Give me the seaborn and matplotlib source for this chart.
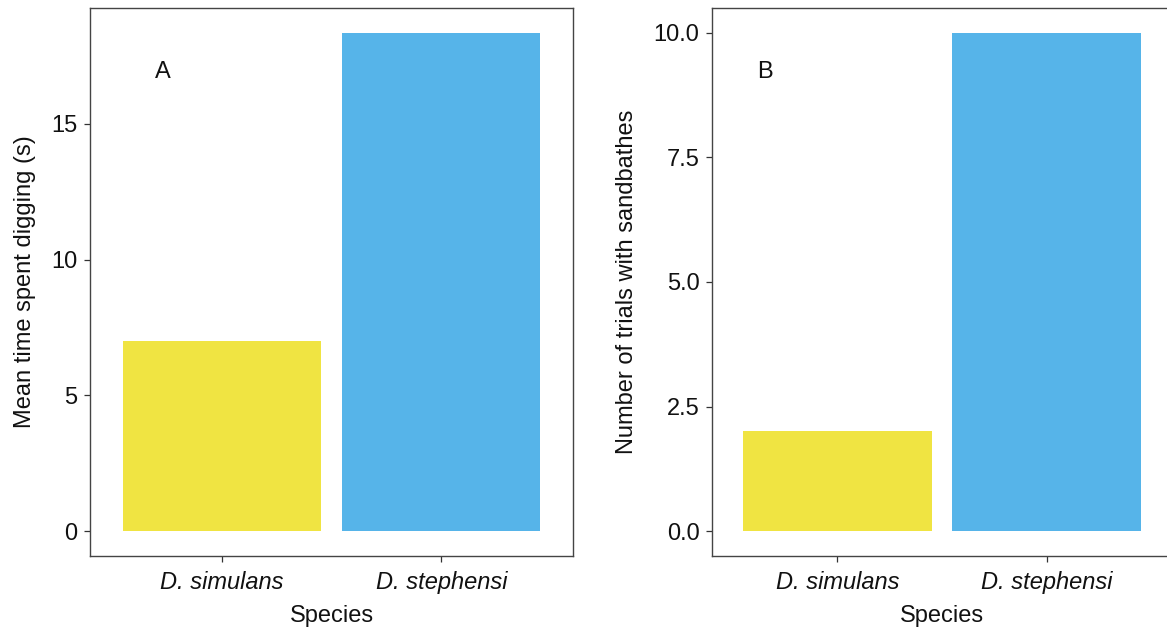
import matplotlib
matplotlib.use("Agg")
import matplotlib.pyplot as plt
import seaborn as sns
import pandas as pd

species = ["D. simulans", "D. stephensi"]
dig_time = [7.0, 18.35]
sandbath_trials = [2, 10]
colors = ["#F0E442", "#56B4E9"]
yticks_a = [0, 5, 10, 15]
yticks_b = [0.0, 2.5, 5.0, 7.5, 10.0]

sns.set_style("white")
plt.rcParams["font.family"] = ["Liberation Sans", "DejaVu Sans"]

FS = 17

fig = plt.figure(figsize=(11.67, 6.33), dpi=100)
ax1 = fig.add_axes([90/1167, 77/633, 483/1167, 548/633])
ax2 = fig.add_axes([712/1167, 77/633, 460/1167, 548/633])

df_a = pd.DataFrame({"Species": species, "val": dig_time})
df_b = pd.DataFrame({"Species": species, "val": sandbath_trials})

def style(ax, df, ylabel, yticks, ticklabels, ymax, letter, lx):
    sns.barplot(data=df, x="Species", y="val", hue="Species", palette=colors,
                saturation=1, width=0.9, legend=False, ax=ax, edgecolor="none")
    ax.set_xlim(-0.6, 1.6)
    rng = ymax
    ax.set_ylim(-0.05 * rng, ymax + 0.05 * rng)
    ax.set_yticks(yticks)
    ax.set_yticklabels(ticklabels)
    ax.set_xticks([0, 1])
    ax.set_xticklabels(species, fontstyle="italic")
    ax.set_xlabel("Species", fontsize=FS, color="#111111", labelpad=8)
    ax.set_ylabel(ylabel, fontsize=FS, color="#111111", labelpad=11)
    ax.tick_params(axis="both", labelsize=FS, labelcolor="#111111", length=4,
                   width=0.9, color="#333333", direction="out", pad=5,
                   bottom=True, left=True)
    ax.tick_params(axis="x", pad=7)
    for s in ax.spines.values():
        s.set_color("#444444")
        s.set_linewidth(1.0)
    ax.text(lx, 0.883, letter, transform=ax.transAxes, fontsize=FS,
            color="#111111", ha="center", va="center")

style(ax1, df_a, "Mean time spent digging (s)", yticks_a,
      [str(t) for t in yticks_a], 18.35, "A", 0.151)
style(ax2, df_b, "Number of trials with sandbathes", yticks_b,
      [f"{t:.1f}" for t in yticks_b], 10.0, "B", 0.115)

fig.savefig("out.png", dpi=100, facecolor="white")
